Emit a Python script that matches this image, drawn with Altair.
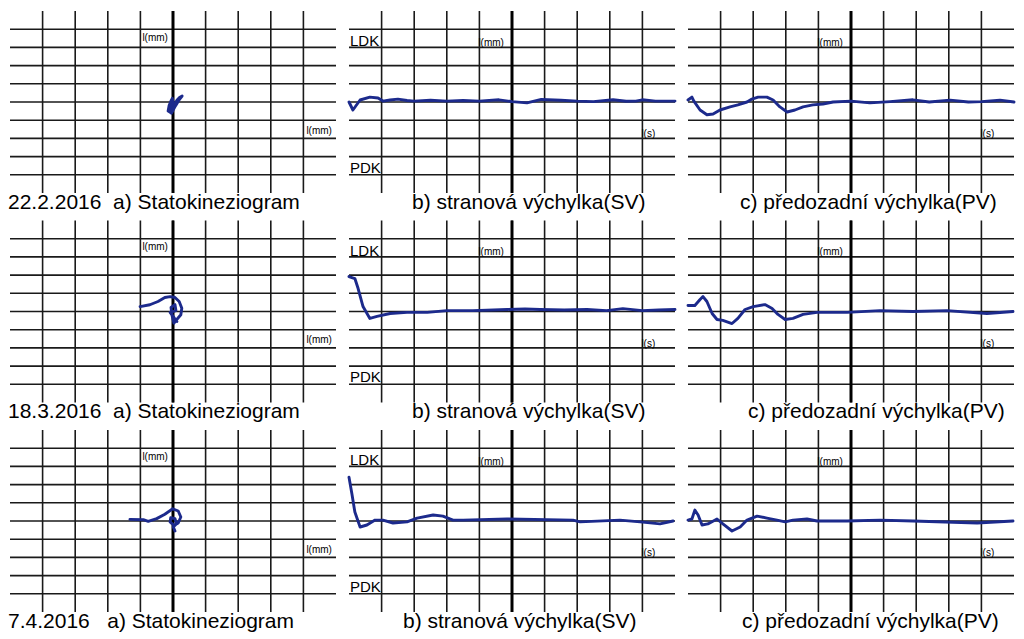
import altair as alt
import pandas as pd

# ---------------- data ----------------
DATES = ["22.2.2016", "18.3.2016", "7.4.2016"]
TITLE_A = "a) Statokineziogram"
TITLE_B = "b) stranová výchylka(SV)"
TITLE_C = "c) předozadní výchylka(PV)"
LABEL_LDK = "LDK"
LABEL_PDK = "PDK"
LABEL_MM = "l(mm)"
LABEL_S = "l(s)"
GRID_VALUES = [-4, -3, -2, -1, 0, 1, 2, 3, 4]
CENTER_VALUES = [0]

# Row 1 (22.2.2016)
SK1_X = [-0.05, -0.15, -0.12, -0.05, -0.02, 0.0, -0.05, -0.1, -0.02, 0.06, 0.12, 0.2, 0.28, 0.2, 0.08, -0.05]
SK1_Y = [-0.6, -0.5, -0.2, 0.1, 0.2, 0.0, -0.3, -0.55, -0.45, -0.1, 0.1, 0.25, 0.33, 0.15, -0.2, -0.62]
SV1_T = [-5.0, -4.88, -4.66, -4.36, -4.11, -3.96, -3.74, -3.5, -3.22, -3.0, -2.5, -2.0, -1.5, -1.0,
         -0.4, 0.0, 0.46, 0.9, 1.5, 2.0, 2.5, 3.1, 3.5, 3.8, 4.0, 4.4, 5.0]
SV1_Y = [0.0, -0.44, 0.11, 0.27, 0.22, 0.05, 0.11, 0.16, 0.08, 0.05, 0.1, 0.05, 0.08, 0.05,
         0.12, 0.02, -0.05, 0.14, 0.1, 0.05, 0.02, 0.12, 0.04, 0.05, 0.12, 0.05, 0.05]
PV1_T = [-5.0, -4.88, -4.82, -4.63, -4.42, -4.23, -4.02, -3.71, -3.47, -3.19, -3.04, -2.85, -2.58,
         -2.39, -2.18, -1.96, -1.72, -1.47, -1.17, -0.86, -0.55, 0.0, 0.58, 1.2, 1.9, 2.4, 3.04,
         3.6, 4.0, 4.57, 5.0]
PV1_Y = [0.11, 0.27, 0.05, -0.44, -0.7, -0.66, -0.44, -0.27, -0.16, 0.0, 0.16, 0.27, 0.27,
         0.11, -0.27, -0.55, -0.44, -0.27, -0.16, -0.11, 0.0, 0.05, -0.05, 0.02, 0.12, 0.0, 0.1,
         0.0, 0.02, 0.1, 0.0]

# Row 2 (18.3.2016)
SK2_X = [-1.01, -0.71, -0.46, -0.25, -0.09, 0.06, 0.19, 0.27, 0.24, 0.11, 0.03, -0.03, -0.06,
         0.06, 0.09, -0.09, 0.03, 0.12]
SK2_Y = [0.27, 0.37, 0.55, 0.77, 0.82, 0.77, 0.55, 0.18, -0.18, -0.45, -0.64, -0.22, 0.22,
         0.38, 0.05, -0.05, -0.33, -0.55]
SV2_T = [-5.0, -4.82, -4.72, -4.57, -4.36, -4.14, -3.74, -3.22, -2.6, -2.0, -1.2, -0.15, 0.4,
         0.86, 1.6, 2.3, 2.9, 3.4, 4.0, 4.5, 5.0]
SV2_Y = [1.92, 1.81, 1.26, 0.27, -0.38, -0.27, -0.11, -0.05, -0.05, 0.05, 0.05, 0.11, 0.14,
         0.11, 0.08, 0.11, 0.05, 0.16, 0.05, 0.08, 0.11]
PV2_T = [-5.0, -4.79, -4.63, -4.54, -4.42, -4.26, -4.11, -3.93, -3.65, -3.47, -3.25, -3.0, -2.64,
         -2.42, -2.24, -2.02, -1.78, -1.47, -1.04, -0.12, 0.89, 1.9, 2.94, 4.17, 4.97]
PV2_Y = [0.33, 0.33, 0.66, 0.82, 0.55, -0.11, -0.44, -0.49, -0.66, -0.38, 0.11, 0.27, 0.38,
         0.16, -0.16, -0.44, -0.38, -0.16, -0.05, -0.05, 0.05, 0.0, 0.05, -0.11, 0.0]

# Row 3 (7.4.2016)
SK3_X = [-1.32, -0.91, -0.76, -0.5, -0.25, -0.01, 0.16, 0.24, 0.16, 0.03, -0.09, -0.07, 0.06,
         0.11, 0.01, 0.06]
SK3_Y = [0.09, 0.07, -0.02, 0.13, 0.37, 0.67, 0.55, 0.22, -0.11, -0.24, -0.05, 0.18, 0.13,
         -0.15, -0.33, -0.55]
SV3_T = [-5.0, -4.91, -4.82, -4.66, -4.45, -4.2, -3.96, -3.65, -3.22, -2.91, -2.42, -2.12, -1.81,
         -1.5, -0.15, 1.87, 2.09, 3.31, 3.93, 4.54, 4.94]
SV3_Y = [2.41, 1.48, 0.49, -0.33, -0.22, 0.05, 0.05, -0.11, -0.05, 0.16, 0.33, 0.27, 0.05,
         0.05, 0.11, 0.05, -0.05, 0.05, -0.05, -0.16, 0.0]
PV3_T = [-5.0, -4.88, -4.79, -4.69, -4.57, -4.39, -4.11, -3.93, -3.65, -3.4, -3.19, -2.88, -2.58,
         -2.27, -2.02, -1.78, -1.35, -1.04, -0.12, 0.89, 1.9, 3.87, 4.97]
PV3_Y = [0.05, 0.11, 0.6, 0.33, -0.22, -0.16, 0.11, -0.16, -0.55, -0.33, 0.05, 0.27, 0.16,
         0.05, -0.05, 0.05, 0.11, 0.0, 0.0, 0.05, 0.0, -0.11, 0.0]

ROWS = [
    (SK1_X, SK1_Y, SV1_T, SV1_Y, PV1_T, PV1_Y),
    (SK2_X, SK2_Y, SV2_T, SV2_Y, PV2_T, PV2_Y),
    (SK3_X, SK3_Y, SV3_T, SV3_Y, PV3_T, PV3_Y),
]

# ---------------- styling ----------------
FONT = "Liberation Sans"
GRID_COLOR = "#1a1a1a"
TRACE_COLOR = "#1c2a8c"
W, H = 326, 182
TITLE_SIZE = 21

XS = alt.Scale(domain=[-5, 5], nice=False, zero=False)
YS = alt.Scale(domain=[-5, 5], nice=False, zero=False)


def grid_layers():
    g = pd.DataFrame({"v": GRID_VALUES})
    c = pd.DataFrame({"v": CENTER_VALUES})
    hlines = alt.Chart(g).mark_rule(color=GRID_COLOR, strokeWidth=1.6).encode(
        y=alt.Y("v:Q", scale=YS, axis=None))
    vlines = alt.Chart(g).mark_rule(color=GRID_COLOR, strokeWidth=1.6).encode(
        x=alt.X("v:Q", scale=XS, axis=None))
    vcenter = alt.Chart(c).mark_rule(color="#000000", strokeWidth=3).encode(
        x=alt.X("v:Q", scale=XS, axis=None))
    return [hlines, vlines, vcenter]


def trace(xs, ys):
    df = pd.DataFrame({"x": xs, "y": ys, "i": list(range(len(xs)))})
    return alt.Chart(df).mark_line(
        color=TRACE_COLOR, strokeWidth=2.9, strokeJoin="round", strokeCap="round"
    ).encode(
        x=alt.X("x:Q", scale=XS, axis=None),
        y=alt.Y("y:Q", scale=YS, axis=None),
        order="i:Q",
    )


def label(text, x, y, size, dx=0, dy=0):
    df = pd.DataFrame({"x": [x], "y": [y], "t": [text]})
    return alt.Chart(df).mark_text(
        align="left", baseline="alphabetic", font=FONT, fontSize=size,
        color="black", dx=dx, dy=dy
    ).encode(
        x=alt.X("x:Q", scale=XS, axis=None),
        y=alt.Y("y:Q", scale=YS, axis=None),
        text="t:N",
    )


def panel(layers, title, dx):
    return alt.layer(*layers).properties(
        width=W, height=H,
        title=alt.TitleParams(
            text=title, orient="bottom", anchor="start", frame="group",
            baseline="top", dx=dx, offset=-3, fontSize=TITLE_SIZE, font=FONT,
            fontWeight="normal", color="black",
        ),
    )


TITLE_DX_B = [63, 63, 54]
TITLE_DX_C = [52, 60, 54]
GAPS = [2, 2, 3]

panels = []
for r, (skx, sky, svt, svy, pvt, pvy) in enumerate(ROWS):
    pa = panel(
        grid_layers() + [
            label(LABEL_MM, -1, 3.37, 10, dx=2),
            label(LABEL_MM, 4, -1.75, 10, dx=3),
            trace(skx, sky),
        ],
        DATES[r] + "\u00a0" * GAPS[r] + TITLE_A, -2,
    )
    pb = panel(
        grid_layers() + [
            label(LABEL_LDK, -5, 3, 15, dx=1, dy=-1),
            label(LABEL_PDK, -5, -4, 15, dx=1, dy=-2),
            label(LABEL_MM, -1, 3.1, 10, dx=-1),
            label(LABEL_S, 4, -1.95, 10, dx=-1),
            trace(svt, svy),
        ],
        TITLE_B, TITLE_DX_B[r],
    )
    pc = panel(
        grid_layers() + [
            label(LABEL_MM, -1, 3.1, 10, dx=-1),
            label(LABEL_S, 4, -1.95, 10, dx=-1),
            trace(pvt, pvy),
        ],
        TITLE_C, TITLE_DX_C[r],
    )
    panels += [pa, pb, pc]

chart = alt.concat(
    *panels, columns=3, bounds="flush",
    spacing=alt.RowColnumber(row=27.5, column=13),
).properties(
    padding={"left": 0, "top": 1, "right": 0, "bottom": 0},
    background="white",
).configure_view(stroke=None)

chart.save("out.html", embed_options={"renderer": "svg", "actions": False})
